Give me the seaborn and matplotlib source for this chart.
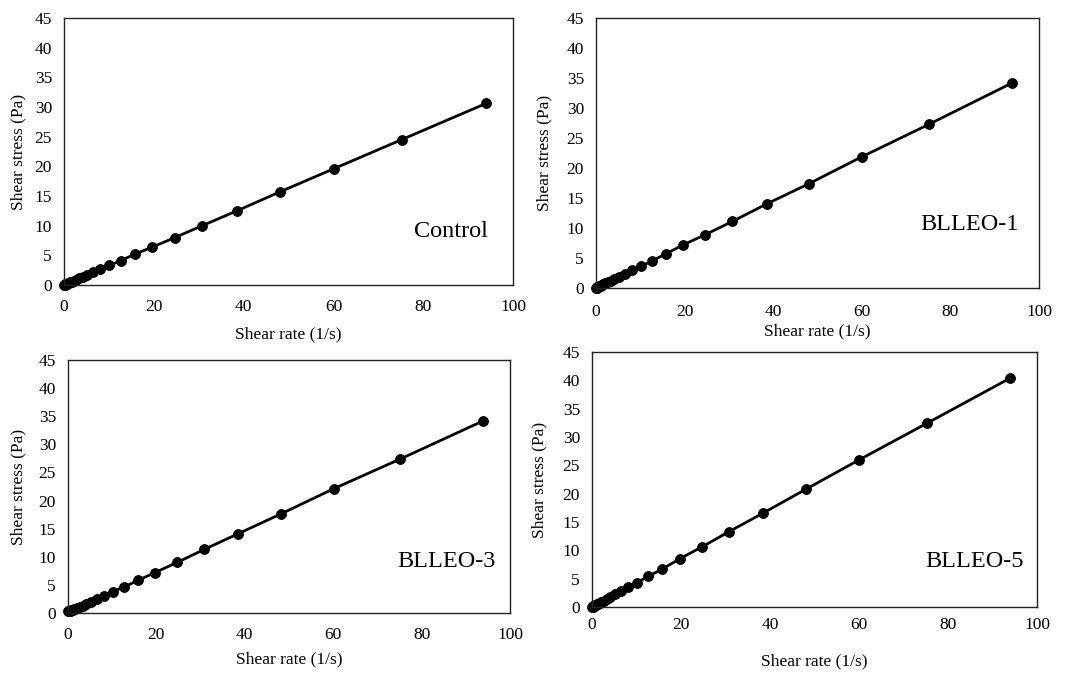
import numpy as np
import pandas as pd
import seaborn as sns
import matplotlib.pyplot as plt

# ===============================
# 1. DATA
# ===============================
shear_rate = [0.11, 0.14, 0.18, 0.23, 0.28, 0.35, 0.44, 0.55, 0.69, 0.87,
              1.08, 1.35, 1.69, 2.12, 2.65, 3.31, 4.13, 5.17, 6.46, 8.07,
              10.1, 12.6, 15.8, 19.7, 24.7, 30.8, 38.5, 48.1, 60.1, 75.2, 94.0]

control = [0.04, 0.05, 0.06, 0.08, 0.10, 0.12, 0.15, 0.19, 0.23, 0.29,
           0.36, 0.45, 0.56, 0.70, 0.88, 1.10, 1.36, 1.70, 2.12, 2.65,
           3.3, 4.1, 5.2, 6.4, 8.0, 10.0, 12.5, 15.7, 19.6, 24.5, 30.6]

blleo_1 = [0.05, 0.06, 0.07, 0.09, 0.11, 0.14, 0.17, 0.21, 0.26, 0.32,
           0.40, 0.50, 0.62, 0.78, 0.97, 1.21, 1.51, 1.89, 2.36, 2.95,
           3.6, 4.5, 5.7, 7.2, 8.9, 11.1, 14.0, 17.4, 21.9, 27.3, 34.2]

blleo_3 = [0.30, 0.31, 0.32, 0.33, 0.34, 0.36, 0.39, 0.42, 0.46, 0.52,
           0.58, 0.66, 0.78, 0.92, 1.10, 1.33, 1.62, 2.00, 2.45, 3.0,
           3.8, 4.6, 5.8, 7.2, 9.0, 11.3, 14.1, 17.6, 22.1, 27.4, 34.2]

blleo_5 = [0.05, 0.06, 0.08, 0.10, 0.12, 0.15, 0.19, 0.24, 0.30, 0.37,
           0.46, 0.58, 0.73, 0.91, 1.14, 1.42, 1.78, 2.22, 2.78, 3.5,
           4.3, 5.4, 6.7, 8.5, 10.6, 13.3, 16.6, 20.8, 26.0, 32.4, 40.4]

samples = ["Control", "BLLEO-1", "BLLEO-3", "BLLEO-5"]
series = [control, blleo_1, blleo_3, blleo_5]

x_ticks = [0, 20, 40, 60, 80, 100]
y_ticks = [0, 5, 10, 15, 20, 25, 30, 35, 40, 45]

# ===============================
# 2. STYLE / LAYOUT
# ===============================
sns.set_style("white")
plt.rcParams['font.family'] = ['Liberation Serif', 'DejaVu Serif']
plt.rcParams['text.color'] = 'black'
plt.rcParams['axes.labelcolor'] = 'black'
plt.rcParams['xtick.color'] = 'black'
plt.rcParams['ytick.color'] = 'black'

W, H = 1065, 673
fig = plt.figure(figsize=(W / 100, H / 100), dpi=100)

# axes boxes in pixels: left, top, right, bottom
boxes = [(64, 18, 513, 285),
         (596, 18, 1039, 288),
         (68, 360, 510, 613),
         (592, 352, 1037, 607)]
label_pos = [(0.945, 0.20), (0.955, 0.235), (0.968, 0.205), (0.97, 0.18)]
xtick_pad = [9.8, 11.2, 9.8, 6.9]      # pt
xlabel_off = [41.0, 35.0, 38.0, 46.0]  # px below axes (top of label)
ylabel_off = [38.0, 44.0, 42.0, 45.0]  # px left of axes (right edge of label)

# ===============================
# 3. PLOT
# ===============================
for i, (name, ys) in enumerate(zip(samples, series)):
    l, t, r, b = boxes[i]
    w_px, h_px = r - l, b - t
    ax = fig.add_axes([l / W, 1 - b / H, w_px / W, h_px / H])
    df = pd.DataFrame({"rate": shear_rate, "stress": ys})
    sns.lineplot(data=df, x="rate", y="stress", ax=ax, color="black",
                 marker="o", markersize=7, markeredgecolor="black",
                 linewidth=2.0, clip_on=False)
    ax.set_xlim(0, 100)
    ax.set_ylim(0, 45)
    ax.set_xticks(x_ticks)
    ax.set_yticks(y_ticks)
    ax.tick_params(labelsize=12.5, length=0, labelcolor="black")
    ax.tick_params(axis="x", pad=xtick_pad[i])
    ax.tick_params(axis="y", pad=8.6)
    ax.set_xlabel("Shear rate (1/s)", fontsize=12.5, color="black")
    ax.set_ylabel("Shear stress (Pa)", fontsize=12.5, color="black")
    ax.xaxis.set_label_coords(0.5, -xlabel_off[i] / h_px)
    ax.yaxis.set_label_coords(-ylabel_off[i] / w_px, 0.5)
    for s in ax.spines.values():
        s.set_color("#222222")
        s.set_linewidth(1.0)
    tx, ty = label_pos[i]
    ax.text(tx, ty, name, transform=ax.transAxes, ha="right", va="center",
            fontsize=17.5, color="black")

fig.savefig("out.png", dpi=100)
